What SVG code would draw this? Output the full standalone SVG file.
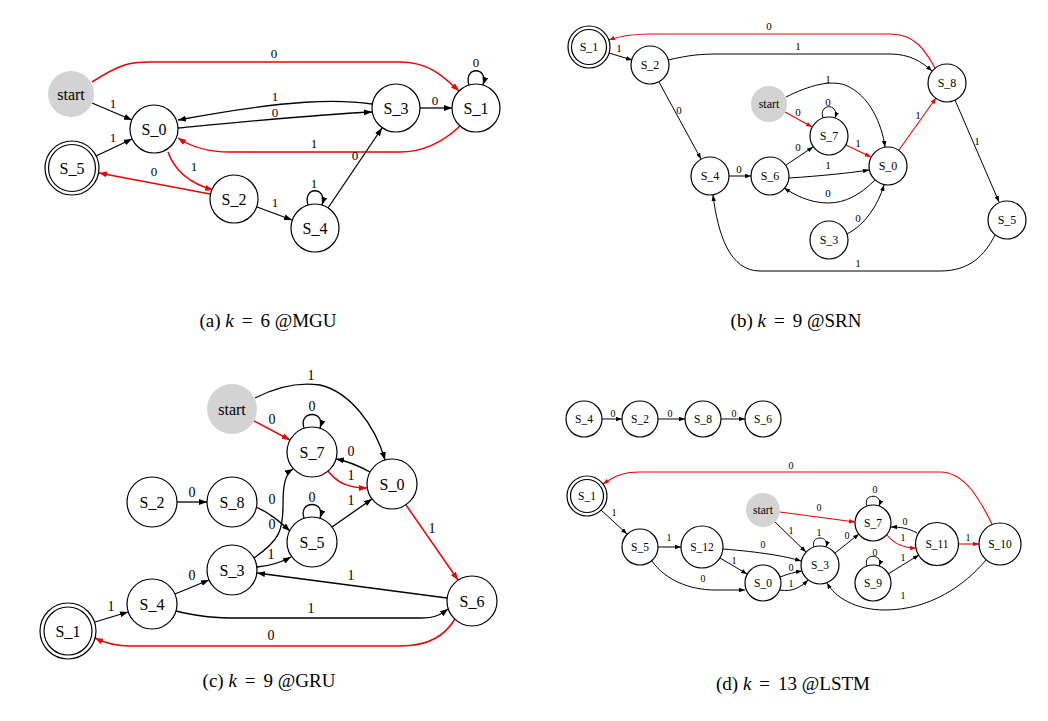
<svg xmlns="http://www.w3.org/2000/svg" width="1048" height="721" viewBox="0 0 1048 721">
<defs>
<marker id="ab" viewBox="0 0 8 6" refX="8" refY="3" markerWidth="8" markerHeight="6" markerUnits="userSpaceOnUse" orient="auto"><path d="M0,0 L8,3 L0,6 z" fill="#000"/></marker>
<marker id="ar" viewBox="0 0 8 6" refX="8" refY="3" markerWidth="8" markerHeight="6" markerUnits="userSpaceOnUse" orient="auto"><path d="M0,0 L8,3 L0,6 z" fill="#e00"/></marker>
<marker id="sb" viewBox="0 0 8 6" refX="8" refY="3" markerWidth="6" markerHeight="4.5" markerUnits="userSpaceOnUse" orient="auto"><path d="M0,0 L8,3 L0,6 z" fill="#000"/></marker>
<marker id="sr" viewBox="0 0 8 6" refX="8" refY="3" markerWidth="6" markerHeight="4.5" markerUnits="userSpaceOnUse" orient="auto"><path d="M0,0 L8,3 L0,6 z" fill="#e00"/></marker>
</defs>
<style>
text{font-family:"Liberation Serif","Times New Roman",serif;text-anchor:middle;fill:#000}
circle{fill:#fff;stroke:#000;stroke-width:1.2}
circle.st{fill:#d3d3d3;stroke:none}
.A path,.S path{fill:none}
.A path.k{stroke:#000;stroke-width:1.3;marker-end:url(#ab)}
.A path.r{stroke:#e00;stroke-width:1.5;marker-end:url(#ar)}
.S path.k{stroke:#000;stroke-width:1;marker-end:url(#sb)}
.S path.r{stroke:#e00;stroke-width:1.1;marker-end:url(#sr)}
.la{font-size:13px}.lb{font-size:11px}.lc{font-size:14px}.ld{font-size:10px}
.na{font-size:16px}.nb{font-size:12px}.nc{font-size:16px}.nd{font-size:11.5px}
.cap{font-size:19px}
</style>
<rect width="1048" height="721" fill="#fff"/>

<!-- ===== Panel (a) ===== -->
<g id="a-edges" class="A">
<path class="r" d="M92,82 C120,64 130,62 150,62 L400,62 C430,62 445,78 459,91"/>
<path class="k" d="M92,103 L132,120"/>
<path class="k" d="M96,156 L132,139"/>
<path class="k" d="M372,104 C340,99 290,99 178,120"/>
<path class="k" d="M178,128 C240,122 310,115 372,112"/>
<path class="k" d="M420,108 L452,108"/>
<path class="r" d="M460,126 C440,145 420,152 400,152 L230,152 C205,152 190,146 178,138"/>
<path class="r" d="M168,152 C175,172 192,184 213,190"/>
<path class="r" d="M210,194 L99,173"/>
<path class="k" d="M257,207 L292,220"/>
<path class="k" d="M308,205 C302,186 328,186 322,205"/>
<path class="k" d="M328,208 L382,128"/>
<path class="k" d="M469,85 C463,66 489,66 483,85"/>
</g>
<g id="a-labels" class="la">
<text x="274" y="58">0</text>
<text x="113" y="108">1</text>
<text x="113" y="142">1</text>
<text x="275" y="101">1</text>
<text x="275" y="117">0</text>
<text x="435" y="105">0</text>
<text x="314" y="148">1</text>
<text x="194" y="171">1</text>
<text x="154" y="176">0</text>
<text x="275" y="207">1</text>
<text x="314" y="188">1</text>
<text x="355" y="160">0</text>
<text x="476" y="67">0</text>
</g>
<g id="a-start"><circle class="st" cx="71" cy="94" r="23"/><text class="na" x="71" y="99.5">start</text></g>
<g id="a-S_0"><circle cx="154" cy="129" r="24"/><text class="na" x="154" y="134.5">S_0</text></g>
<g id="a-S_5"><circle cx="72" cy="168" r="27"/><circle cx="72" cy="168" r="23.5"/><text class="na" x="72" y="173.5">S_5</text></g>
<g id="a-S_2"><circle cx="234" cy="199" r="24"/><text class="na" x="234" y="204.5">S_2</text></g>
<g id="a-S_4"><circle cx="315" cy="228" r="24"/><text class="na" x="315" y="233.5">S_4</text></g>
<g id="a-S_3"><circle cx="396" cy="108" r="24"/><text class="na" x="396" y="113.5">S_3</text></g>
<g id="a-S_1"><circle cx="476" cy="108" r="24"/><text class="na" x="476" y="113.5">S_1</text></g>
<text class="cap" x="268" y="327">(a) <tspan font-style="italic">k</tspan><tspan dx="8">=</tspan><tspan dx="8">6</tspan> @MGU</text>

<!-- ===== Panel (b) ===== -->
<g id="b-edges" class="S">
<path class="r" d="M935,68 C925,50 915,34 890,34 L650,34 C630,34 620,36 609,40"/>
<path class="k" d="M609,53 L632,60"/>
<path class="k" d="M668,60 C690,55 700,54 720,54 L890,54 C910,54 922,62 932,71"/>
<path class="k" d="M659,82 L701,159"/>
<path class="k" d="M786,97 C810,85 830,80 845,85 C870,95 882,125 885,147"/>
<path class="r" d="M785,112 L812,127"/>
<path class="k" d="M823,118 C818,103 840,103 835,118"/>
<path class="r" d="M846,145 L871,157"/>
<path class="r" d="M899,150 L936,98"/>
<path class="k" d="M729,176 L751,176"/>
<path class="k" d="M786,165 L813,147"/>
<path class="k" d="M789,178 C820,176 850,173 869,170"/>
<path class="k" d="M875,180 C860,195 845,203 828,203 C810,203 795,195 784,188"/>
<path class="k" d="M847,234 C865,225 878,205 884,185"/>
<path class="k" d="M955,100 L999,202"/>
<path class="k" d="M995,235 C985,255 970,271 940,271 L760,271 C730,271 718,235 713,195"/>
</g>
<g id="b-labels" class="lb">
<text x="769" y="30">0</text>
<text x="619" y="52">1</text>
<text x="798" y="50">1</text>
<text x="679" y="114">0</text>
<text x="828" y="83">1</text>
<text x="798" y="116">0</text>
<text x="828" y="106">0</text>
<text x="858" y="147">1</text>
<text x="918" y="119">1</text>
<text x="739" y="173">0</text>
<text x="798" y="151">0</text>
<text x="828" y="169">1</text>
<text x="828" y="197">0</text>
<text x="858" y="222">0</text>
<text x="977" y="145">1</text>
<text x="858" y="267">1</text>
</g>
<g id="b-S_1"><circle cx="589" cy="47" r="21"/><circle cx="589" cy="47" r="17.5"/><text class="nb" x="589" y="51">S_1</text></g>
<g id="b-S_2"><circle cx="650" cy="65" r="19"/><text class="nb" x="650" y="69">S_2</text></g>
<g id="b-S_8"><circle cx="947" cy="83" r="19"/><text class="nb" x="947" y="87">S_8</text></g>
<g id="b-start"><circle class="st" cx="769" cy="104" r="18"/><text class="nb" x="769" y="108">start</text></g>
<g id="b-S_7"><circle cx="829" cy="136" r="19"/><text class="nb" x="829" y="140">S_7</text></g>
<g id="b-S_0"><circle cx="888" cy="166" r="19"/><text class="nb" x="888" y="170">S_0</text></g>
<g id="b-S_4"><circle cx="710" cy="176" r="19"/><text class="nb" x="710" y="180">S_4</text></g>
<g id="b-S_6"><circle cx="770" cy="176" r="19"/><text class="nb" x="770" y="180">S_6</text></g>
<g id="b-S_3"><circle cx="829" cy="240" r="19"/><text class="nb" x="829" y="244">S_3</text></g>
<g id="b-S_5"><circle cx="1007" cy="220" r="19"/><text class="nb" x="1007" y="224">S_5</text></g>
<text class="cap" x="796" y="327">(b) <tspan font-style="italic">k</tspan><tspan dx="8">=</tspan><tspan dx="8">9</tspan> @SRN</text>

<!-- ===== Panel (c) ===== -->
<g id="c-edges" class="A">
<path class="k" d="M255,398 C280,385 300,382 320,385 C350,392 375,425 385,460"/>
<path class="r" d="M254,421 L290,440"/>
<path class="k" d="M304,428 C298,410 326,410 320,428"/>
<path class="k" d="M370,472 Q352,462 336,459"/>
<path class="r" d="M328,471 C338,484 350,488 367,488"/>
<path class="r" d="M406,505 L458,580"/>
<path class="k" d="M177,502 L207,502"/>
<path class="k" d="M256,507 C270,513 280,522 290,531"/>
<path class="k" d="M304,518 C298,500 326,500 320,518"/>
<path class="k" d="M332,527 L372,499"/>
<path class="k" d="M254,558 C280,540 283,530 283,505 C283,485 285,474 293,469"/>
<path class="k" d="M257,567 C270,566 280,563 291,557"/>
<path class="k" d="M175,594 L209,580"/>
<path class="k" d="M95,622 L128,612"/>
<path class="k" d="M447,598 L257,573"/>
<path class="k" d="M176,611 C200,617 215,618 240,618 L420,618 C435,618 440,615 448,609"/>
<path class="r" d="M455,619 C445,635 430,646 400,646 L130,646 C115,646 105,643 95,638"/>
</g>
<g id="c-labels" class="lc">
<text x="311" y="380">1</text>
<text x="272" y="424">0</text>
<text x="312" y="411">0</text>
<text x="351" y="456">0</text>
<text x="351" y="480">1</text>
<text x="432" y="533">1</text>
<text x="192" y="497">0</text>
<text x="272" y="504">0</text>
<text x="312" y="502">0</text>
<text x="351" y="505">1</text>
<text x="272" y="529">0</text>
<text x="271" y="559">1</text>
<text x="192" y="580">0</text>
<text x="111" y="611">1</text>
<text x="351" y="580">1</text>
<text x="311" y="613">1</text>
<text x="271" y="640">0</text>
</g>
<g id="c-start"><circle class="st" cx="232" cy="409" r="25"/><text class="nc" x="232" y="414.5">start</text></g>
<g id="c-S_7"><circle cx="312" cy="452" r="25"/><text class="nc" x="312" y="457.5">S_7</text></g>
<g id="c-S_0"><circle cx="392" cy="484" r="25"/><text class="nc" x="392" y="489.5">S_0</text></g>
<g id="c-S_2"><circle cx="152" cy="502" r="25"/><text class="nc" x="152" y="507.5">S_2</text></g>
<g id="c-S_8"><circle cx="232" cy="502" r="25"/><text class="nc" x="232" y="507.5">S_8</text></g>
<g id="c-S_5"><circle cx="312" cy="542" r="25"/><text class="nc" x="312" y="547.5">S_5</text></g>
<g id="c-S_3"><circle cx="232" cy="570" r="25"/><text class="nc" x="232" y="575.5">S_3</text></g>
<g id="c-S_4"><circle cx="152" cy="604" r="25"/><text class="nc" x="152" y="609.5">S_4</text></g>
<g id="c-S_6"><circle cx="472" cy="601" r="25"/><text class="nc" x="472" y="606.5">S_6</text></g>
<g id="c-S_1"><circle cx="68" cy="631" r="28"/><circle cx="68" cy="631" r="24"/><text class="nc" x="68" y="636.5">S_1</text></g>
<text class="cap" x="269" y="687">(c) <tspan font-style="italic">k</tspan><tspan dx="8">=</tspan><tspan dx="8">9</tspan> @GRU</text>

<!-- ===== Panel (d) ===== -->
<g id="d-edges" class="S">
<path class="k" d="M602,419 L622,419"/>
<path class="k" d="M658,419 L685,419"/>
<path class="k" d="M721,419 L745,419"/>
<path class="r" d="M992,524 C980,500 965,472 940,472 L640,472 C620,472 612,478 603,484"/>
<path class="k" d="M601,510 L627,534"/>
<path class="k" d="M658,547 L681,547"/>
<path class="k" d="M723,549 C760,552 785,556 801,561"/>
<path class="k" d="M720,558 L747,574"/>
<path class="k" d="M652,561 C665,580 690,590 715,590 L745,590"/>
<path class="k" d="M780,577 C788,574 795,572 802,571"/>
<path class="k" d="M780,590 C792,592 800,588 808,580"/>
<path class="k" d="M775,522 L806,552"/>
<path class="k" d="M814,547 C810,535 830,535 826,547"/>
<path class="r" d="M780,512 L855,522"/>
<path class="k" d="M835,553 L859,534"/>
<path class="k" d="M867,506 C862,493 884,493 879,506"/>
<path class="k" d="M917,533 C908,528 900,527 891,527"/>
<path class="r" d="M887,535 C895,545 905,548 916,548"/>
<path class="k" d="M867,566 C862,553 884,553 879,566"/>
<path class="k" d="M888,574 L919,555"/>
<path class="r" d="M958,544 L979,544"/>
<path class="k" d="M986,560 C965,585 930,610 885,610 C855,610 835,597 827,583"/>
</g>
<g id="d-labels" class="ld">
<text x="613" y="416.5">0</text>
<text x="670" y="416.5">0</text>
<text x="734" y="416.5">0</text>
<text x="791" y="468.5">0</text>
<text x="614" y="515.5">1</text>
<text x="669" y="540.5">1</text>
<text x="763" y="547.5">0</text>
<text x="734" y="563.5">1</text>
<text x="703" y="581.5">0</text>
<text x="791" y="570.5">0</text>
<text x="791" y="586.5">1</text>
<text x="791" y="533.5">1</text>
<text x="819" y="536">1</text>
<text x="819" y="510.5">0</text>
<text x="847" y="538.5">0</text>
<text x="875" y="493">0</text>
<text x="905" y="524.5">0</text>
<text x="903" y="540.5">1</text>
<text x="875" y="556">0</text>
<text x="903" y="560.5">1</text>
<text x="968" y="540.5">1</text>
<text x="903" y="598.5">1</text>
</g>
<g id="d-S_4"><circle cx="584" cy="419" r="18"/><text class="nd" x="584" y="423">S_4</text></g>
<g id="d-S_2"><circle cx="640" cy="419" r="18"/><text class="nd" x="640" y="423">S_2</text></g>
<g id="d-S_8"><circle cx="703" cy="419" r="18"/><text class="nd" x="703" y="423">S_8</text></g>
<g id="d-S_6"><circle cx="763" cy="419" r="18"/><text class="nd" x="763" y="423">S_6</text></g>
<g id="d-S_1"><circle cx="587" cy="496" r="20"/><circle cx="587" cy="496" r="16.5"/><text class="nd" x="587" y="500">S_1</text></g>
<g id="d-S_5"><circle cx="640" cy="547" r="18"/><text class="nd" x="640" y="551">S_5</text></g>
<g id="d-S_12"><circle cx="702" cy="547" r="21"/><text class="nd" x="702" y="551">S_12</text></g>
<g id="d-start"><circle class="st" cx="763" cy="510" r="17"/><text class="nd" x="763" y="514">start</text></g>
<g id="d-S_0"><circle cx="763" cy="583" r="18"/><text class="nd" x="763" y="587">S_0</text></g>
<g id="d-S_3"><circle cx="820" cy="565" r="19"/><text class="nd" x="820" y="569">S_3</text></g>
<g id="d-S_7"><circle cx="873" cy="523" r="18"/><text class="nd" x="873" y="527">S_7</text></g>
<g id="d-S_9"><circle cx="873" cy="583" r="18"/><text class="nd" x="873" y="587">S_9</text></g>
<g id="d-S_11"><circle cx="937" cy="544" r="21.5"/><text class="nd" x="937" y="548">S_11</text></g>
<g id="d-S_10"><circle cx="1000" cy="544" r="21"/><text class="nd" x="1000" y="548">S_10</text></g>
<text class="cap" x="793" y="690">(d) <tspan font-style="italic">k</tspan><tspan dx="8">=</tspan><tspan dx="8">13</tspan> @LSTM</text>
</svg>
